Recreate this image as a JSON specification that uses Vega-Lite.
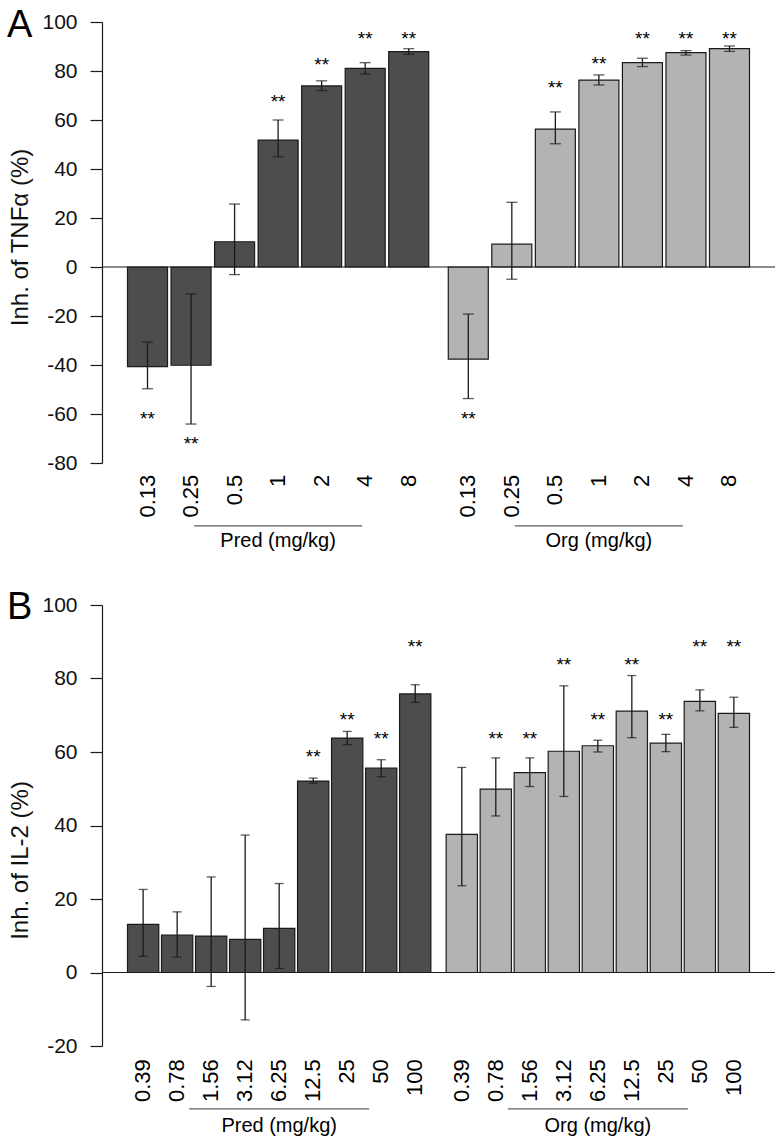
{
  "$schema": "https://vega.github.io/schema/vega-lite/v6.json",
  "autosize": {"type": "pad"},
  "padding": {"left": 7, "top": 7, "right": 7, "bottom": 5},
  "background": "white",
  "config": {
    "font": "Liberation Sans",
    "view": {"stroke": null},
    "axis": {"grid": false, "domainColor": "#1a1a1a", "tickColor": "#1a1a1a", "labelColor": "#111111", "titleColor": "#111111", "labelFontSize": 21, "titleFontSize": 24, "titleFontWeight": "normal", "tickSize": 12, "labelPadding": 13, "domainWidth": 1.2, "tickWidth": 1.2, "labelExpr": "'' + datum.value"},
    "title": {"fontWeight": "normal", "fontSize": 38, "color": "#000000"}
  },
  "datasets": {
    "tnf": [
      {"group": "Pred", "dose": "0.13", "mean": -40.7, "lo": -49.7, "hi": -30.7, "sig": "**", "star_y": -60},
      {"group": "Pred", "dose": "0.25", "mean": -40.1, "lo": -64.1, "hi": -11.0, "sig": "**", "star_y": -70},
      {"group": "Pred", "dose": "0.5", "mean": 10.3, "lo": -3.1, "hi": 25.7, "sig": "", "star_y": null},
      {"group": "Pred", "dose": "1", "mean": 51.8, "lo": 45.0, "hi": 60.0, "sig": "**", "star_y": 69.5},
      {"group": "Pred", "dose": "2", "mean": 73.9, "lo": 72.0, "hi": 76.0, "sig": "**", "star_y": 84.5},
      {"group": "Pred", "dose": "4", "mean": 81.1, "lo": 78.8, "hi": 83.4, "sig": "**", "star_y": 95},
      {"group": "Pred", "dose": "8", "mean": 87.9, "lo": 86.8, "hi": 89.1, "sig": "**", "star_y": 95},
      {"group": "Org", "dose": "0.13", "mean": -37.6, "lo": -53.7, "hi": -19.2, "sig": "**", "star_y": -60},
      {"group": "Org", "dose": "0.25", "mean": 9.3, "lo": -5.0, "hi": 26.4, "sig": "", "star_y": null},
      {"group": "Org", "dose": "0.5", "mean": 56.3, "lo": 50.3, "hi": 63.3, "sig": "**", "star_y": 75},
      {"group": "Org", "dose": "1", "mean": 76.3, "lo": 74.3, "hi": 78.4, "sig": "**", "star_y": 84.8},
      {"group": "Org", "dose": "2", "mean": 83.4, "lo": 81.8, "hi": 85.2, "sig": "**", "star_y": 95},
      {"group": "Org", "dose": "4", "mean": 87.5, "lo": 86.5, "hi": 88.3, "sig": "**", "star_y": 95},
      {"group": "Org", "dose": "8", "mean": 89.1, "lo": 88.0, "hi": 90.2, "sig": "**", "star_y": 95}
    ],
    "il2": [
      {"group": "Pred", "dose": "0.39", "mean": 13.1, "lo": 4.4, "hi": 22.6, "sig": "", "star_y": null},
      {"group": "Pred", "dose": "0.78", "mean": 10.2, "lo": 4.2, "hi": 16.5, "sig": "", "star_y": null},
      {"group": "Pred", "dose": "1.56", "mean": 9.9, "lo": -3.8, "hi": 26.0, "sig": "", "star_y": null},
      {"group": "Pred", "dose": "3.12", "mean": 9.0, "lo": -12.9, "hi": 37.4, "sig": "", "star_y": null},
      {"group": "Pred", "dose": "6.25", "mean": 12.0, "lo": 1.1, "hi": 24.2, "sig": "", "star_y": null},
      {"group": "Pred", "dose": "12.5", "mean": 52.1, "lo": 51.5, "hi": 52.9, "sig": "**", "star_y": 60},
      {"group": "Pred", "dose": "25", "mean": 63.8, "lo": 62.0, "hi": 65.6, "sig": "**", "star_y": 70},
      {"group": "Pred", "dose": "50", "mean": 55.6, "lo": 53.3, "hi": 57.9, "sig": "**", "star_y": 65},
      {"group": "Pred", "dose": "100", "mean": 75.8, "lo": 73.5, "hi": 78.3, "sig": "**", "star_y": 90},
      {"group": "Org", "dose": "0.39", "mean": 37.6, "lo": 23.6, "hi": 55.8, "sig": "", "star_y": null},
      {"group": "Org", "dose": "0.78", "mean": 49.9, "lo": 42.6, "hi": 58.4, "sig": "**", "star_y": 65},
      {"group": "Org", "dose": "1.56", "mean": 54.4, "lo": 50.6, "hi": 58.4, "sig": "**", "star_y": 65},
      {"group": "Org", "dose": "3.12", "mean": 60.2, "lo": 47.9, "hi": 78.0, "sig": "**", "star_y": 85},
      {"group": "Org", "dose": "6.25", "mean": 61.7, "lo": 60.0, "hi": 63.2, "sig": "**", "star_y": 70},
      {"group": "Org", "dose": "12.5", "mean": 71.1, "lo": 63.9, "hi": 80.8, "sig": "**", "star_y": 85},
      {"group": "Org", "dose": "25", "mean": 62.4, "lo": 60.1, "hi": 64.8, "sig": "**", "star_y": 70},
      {"group": "Org", "dose": "50", "mean": 73.8, "lo": 71.2, "hi": 76.9, "sig": "**", "star_y": 90},
      {"group": "Org", "dose": "100", "mean": 70.5, "lo": 66.7, "hi": 74.9, "sig": "**", "star_y": 90}
    ],
    "groups": [
      {"group": "Pred", "label": "Pred (mg/kg)"},
      {"group": "Org", "label": "Org (mg/kg)"}
    ]
  },
  "bounds": "flush",
  "spacing": 142,
  "resolve": {"scale": {"xOffset": "independent", "x": "independent", "y": "independent"}},
  "vconcat": [
    {
      "width": 673,
      "height": 441,
      "title": {"text": "A", "anchor": "start", "frame": "group", "baseline": "alphabetic", "dx": -95, "dy": 64, "offset": 0},
      "layer": [
        {
          "data": {"name": "tnf"},
          "mark": {"type": "bar", "stroke": "#1a1a1a", "strokeWidth": 1.2},
          "encoding": {
            "x": {"field": "group", "type": "nominal", "axis": null, "scale": {"domain": ["Pred", "Org"], "paddingInner": 0.061, "paddingOuter": 0.0795}},
            "xOffset": {"field": "dose", "type": "nominal", "scale": {"domain": ["0.13", "0.25", "0.5", "1", "2", "4", "8"], "paddingInner": 0.081, "paddingOuter": 0}},
            "y": {"field": "mean", "type": "quantitative", "scale": {"domain": [-80, 100], "nice": false, "zero": false}, "axis": {"values": [-80, -60, -40, -20, 0, 20, 40, 60, 80, 100], "title": "Inh. of TNFα (%)", "titleX": -82, "titleY": 215, "titleAngle": 270, "titleAlign": "center", "titleBaseline": "middle"}},
            "y2": {"datum": 0},
            "color": {"field": "group", "type": "nominal", "scale": {"domain": ["Pred", "Org"], "range": ["#4d4d4d", "#b3b3b3"]}, "legend": null}
          }
        },
        {
          "data": {"values": [{}]},
          "mark": {"type": "rule", "color": "#1a1a1a", "strokeWidth": 1.2},
          "encoding": {"y": {"datum": 0, "type": "quantitative"}}
        },
        {
          "data": {"name": "tnf"},
          "mark": {"type": "rule", "color": "#1a1a1a", "strokeWidth": 1.3},
          "encoding": {
            "x": {"field": "group", "type": "nominal", "axis": null},
            "xOffset": {"field": "dose", "type": "nominal"},
            "y": {"field": "lo", "type": "quantitative"},
            "y2": {"field": "hi"}
          }
        },
        {
          "data": {"name": "tnf"},
          "mark": {"type": "tick", "color": "#1a1a1a", "orient": "horizontal", "size": 11, "thickness": 1.3},
          "encoding": {
            "x": {"field": "group", "type": "nominal", "axis": null},
            "xOffset": {"field": "dose", "type": "nominal"},
            "y": {"field": "lo", "type": "quantitative"}
          }
        },
        {
          "data": {"name": "tnf"},
          "mark": {"type": "tick", "color": "#1a1a1a", "orient": "horizontal", "size": 11, "thickness": 1.3},
          "encoding": {
            "x": {"field": "group", "type": "nominal", "axis": null},
            "xOffset": {"field": "dose", "type": "nominal"},
            "y": {"field": "hi", "type": "quantitative"}
          }
        },
        {
          "data": {"name": "tnf"},
          "transform": [{"filter": "datum.sig != ''"}],
          "mark": {"type": "text", "fontSize": 19, "baseline": "middle", "dy": 5, "color": "#000000"},
          "encoding": {
            "x": {"field": "group", "type": "nominal", "axis": null},
            "xOffset": {"field": "dose", "type": "nominal"},
            "y": {"field": "star_y", "type": "quantitative"},
            "text": {"field": "sig"}
          }
        },
        {
          "data": {"name": "tnf"},
          "mark": {"type": "text", "fontSize": 22, "angle": 270, "align": "right", "baseline": "middle", "color": "#000000"},
          "encoding": {
            "x": {"field": "group", "type": "nominal", "axis": null},
            "xOffset": {"field": "dose", "type": "nominal"},
            "y": {"datum": -84.8, "type": "quantitative"},
            "text": {"field": "dose"}
          }
        },
        {
          "data": {"name": "groups"},
          "mark": {"type": "tick", "color": "#1a1a1a", "orient": "horizontal", "size": 168, "thickness": 1.2},
          "encoding": {
            "x": {"field": "group", "type": "nominal", "axis": null},
            "y": {"datum": -105.7, "type": "quantitative"}
          }
        },
        {
          "data": {"name": "groups"},
          "mark": {"type": "text", "fontSize": 20, "baseline": "middle", "color": "#000000"},
          "encoding": {
            "x": {"field": "group", "type": "nominal", "axis": null},
            "y": {"datum": -112, "type": "quantitative"},
            "text": {"field": "label"}
          }
        }
      ]
    },
    {
      "width": 673,
      "height": 441,
      "title": {"text": "B", "anchor": "start", "frame": "group", "baseline": "alphabetic", "dx": -95, "dy": 63, "offset": 0},
      "layer": [
        {
          "data": {"name": "il2"},
          "mark": {"type": "bar", "stroke": "#1a1a1a", "strokeWidth": 1.2},
          "encoding": {
            "x": {"field": "group", "type": "nominal", "axis": null, "scale": {"domain": ["Pred", "Org"], "paddingInner": 0.048, "paddingOuter": 0.08}},
            "xOffset": {"field": "dose", "type": "nominal", "scale": {"domain": ["0.39", "0.78", "1.56", "3.12", "6.25", "12.5", "25", "50", "100"], "paddingInner": 0.08, "paddingOuter": 0}},
            "y": {"field": "mean", "type": "quantitative", "scale": {"domain": [-20, 100], "nice": false, "zero": false}, "axis": {"values": [-20, 0, 20, 40, 60, 80, 100], "title": "Inh. of IL-2 (%)", "titleX": -82, "titleY": 255, "titleAngle": 270, "titleAlign": "center", "titleBaseline": "middle"}},
            "y2": {"datum": 0},
            "color": {"field": "group", "type": "nominal", "scale": {"domain": ["Pred", "Org"], "range": ["#4d4d4d", "#b3b3b3"]}, "legend": null}
          }
        },
        {
          "data": {"values": [{}]},
          "mark": {"type": "rule", "color": "#1a1a1a", "strokeWidth": 1.2},
          "encoding": {"y": {"datum": 0, "type": "quantitative"}}
        },
        {
          "data": {"name": "il2"},
          "mark": {"type": "rule", "color": "#1a1a1a", "strokeWidth": 1.3},
          "encoding": {
            "x": {"field": "group", "type": "nominal", "axis": null},
            "xOffset": {"field": "dose", "type": "nominal"},
            "y": {"field": "lo", "type": "quantitative"},
            "y2": {"field": "hi"}
          }
        },
        {
          "data": {"name": "il2"},
          "mark": {"type": "tick", "color": "#1a1a1a", "orient": "horizontal", "size": 9, "thickness": 1.3},
          "encoding": {
            "x": {"field": "group", "type": "nominal", "axis": null},
            "xOffset": {"field": "dose", "type": "nominal"},
            "y": {"field": "lo", "type": "quantitative"}
          }
        },
        {
          "data": {"name": "il2"},
          "mark": {"type": "tick", "color": "#1a1a1a", "orient": "horizontal", "size": 9, "thickness": 1.3},
          "encoding": {
            "x": {"field": "group", "type": "nominal", "axis": null},
            "xOffset": {"field": "dose", "type": "nominal"},
            "y": {"field": "hi", "type": "quantitative"}
          }
        },
        {
          "data": {"name": "il2"},
          "transform": [{"filter": "datum.sig != ''"}],
          "mark": {"type": "text", "fontSize": 19, "baseline": "middle", "dy": 5, "color": "#000000"},
          "encoding": {
            "x": {"field": "group", "type": "nominal", "axis": null},
            "xOffset": {"field": "dose", "type": "nominal"},
            "y": {"field": "star_y", "type": "quantitative"},
            "text": {"field": "sig"}
          }
        },
        {
          "data": {"name": "il2"},
          "mark": {"type": "text", "fontSize": 22, "angle": 270, "align": "right", "baseline": "middle", "color": "#000000"},
          "encoding": {
            "x": {"field": "group", "type": "nominal", "axis": null},
            "xOffset": {"field": "dose", "type": "nominal"},
            "y": {"datum": -23.6, "type": "quantitative"},
            "text": {"field": "dose"}
          }
        },
        {
          "data": {"name": "groups"},
          "mark": {"type": "tick", "color": "#1a1a1a", "orient": "horizontal", "size": 180, "thickness": 1.2},
          "encoding": {
            "x": {"field": "group", "type": "nominal", "axis": null},
            "y": {"datum": -37.1, "type": "quantitative"}
          }
        },
        {
          "data": {"name": "groups"},
          "mark": {"type": "text", "fontSize": 20, "baseline": "middle", "color": "#000000"},
          "encoding": {
            "x": {"field": "group", "type": "nominal", "axis": null},
            "y": {"datum": -41.7, "type": "quantitative"},
            "text": {"field": "label"}
          }
        }
      ]
    }
  ]
}
